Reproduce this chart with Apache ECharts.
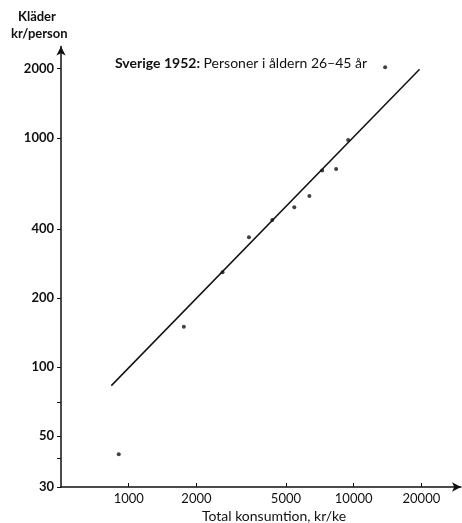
<!DOCTYPE html>
<html>
<head>
<meta charset="utf-8">
<script src="https://cdn.jsdelivr.net/npm/echarts@6/dist/echarts.min.js"></script>
<style>html,body{margin:0;padding:0;background:#fff}#c{width:462px;height:523px}</style>
</head>
<body>
<div id="c"></div>
<script>
// Data
const pointsX = [903, 1758, 2612, 3424, 4345, 5446, 6355, 7244, 8356, 9452, 13800];
const pointsY = [41.7, 150, 259, 368, 438, 498, 557, 719, 731, 978, 2030];
const fitLineX = [837, 19640];
const fitLineY = [83, 1990];
const xTicks = [1000, 2000, 5000, 10000, 20000];
const yTickLabels = [30, 50, 100, 200, 400, 1000, 2000];
const yTicksAll = [30, 40, 50, 70, 100, 200, 400, 1000, 2000];

const FONT = 'Lato';
const chart = echarts.init(document.getElementById('c'), null, {renderer: 'canvas'});
chart.setOption({
  animation: false,
  backgroundColor: '#fff',
  grid: {left: 61, right: 1, top: 46.5, bottom: 36, containLabel: false},
  title: {
    text: '{b|Sverige 1952:} Personer i åldern 26–45 år',
    left: 115, top: 56, padding: 0,
    textStyle: {
      fontFamily: FONT, fontSize: 14, color: '#111', fontWeight: 'normal',
      rich: {b: {fontFamily: FONT, fontSize: 14, fontWeight: 'bold', color: '#111'}}
    }
  },
  graphic: [
    {type: 'text', left: 18, top: 10, style: {text: 'Kläder', font: 'bold 13px ' + FONT, fill: '#111'}},
    {type: 'text', left: 11, top: 27, style: {text: 'kr/person', font: 'bold 13px ' + FONT, fill: '#111'}},
    {type: 'text', x: 274, y: 516, style: {text: 'Total konsumtion, kr/ke', font: '14px ' + FONT, fill: '#111', align: 'center', verticalAlign: 'middle'}}
  ],
  xAxis: {
    type: 'log', logBase: 10, min: 500, max: 30000,
    axisLine: {show: true, lineStyle: {color: '#111', width: 1.5}, symbol: ['none', 'arrow'], symbolSize: [7, 9], onZero: false},
    axisTick: {show: true, inside: true, length: 4, lineStyle: {color: '#111', width: 1}, customValues: xTicks},
    axisLabel: {show: true, margin: 5, fontFamily: FONT, fontSize: 13, color: '#111', customValues: xTicks,
      formatter: v => String(Math.round(v))},
    minorTick: {show: false},
    splitLine: {show: false}
  },
  yAxis: {
    type: 'log', logBase: 10, min: 30, max: 2500,
    axisLine: {show: true, lineStyle: {color: '#111', width: 1.5}, symbol: ['none', 'arrow'], symbolSize: [7, 9], onZero: false},
    axisTick: {show: true, inside: false, length: 4, lineStyle: {color: '#111', width: 1}, customValues: yTicksAll},
    axisLabel: {show: true, margin: 7, fontFamily: FONT, fontSize: 13, fontWeight: 'bold', color: '#111', customValues: yTickLabels,
      formatter: v => String(Math.round(v))},
    splitLine: {show: false}
  },
  series: [
    {
      type: 'line',
      data: fitLineX.map((x, i) => [x, fitLineY[i]]),
      symbol: 'none',
      lineStyle: {color: '#111', width: 1.5},
      z: 2
    },
    {
      type: 'scatter',
      data: pointsX.map((x, i) => [x, pointsY[i]]),
      symbol: 'circle', symbolSize: 4,
      itemStyle: {color: '#111'},
      z: 3
    }
  ]
});
</script>
</body>
</html>
